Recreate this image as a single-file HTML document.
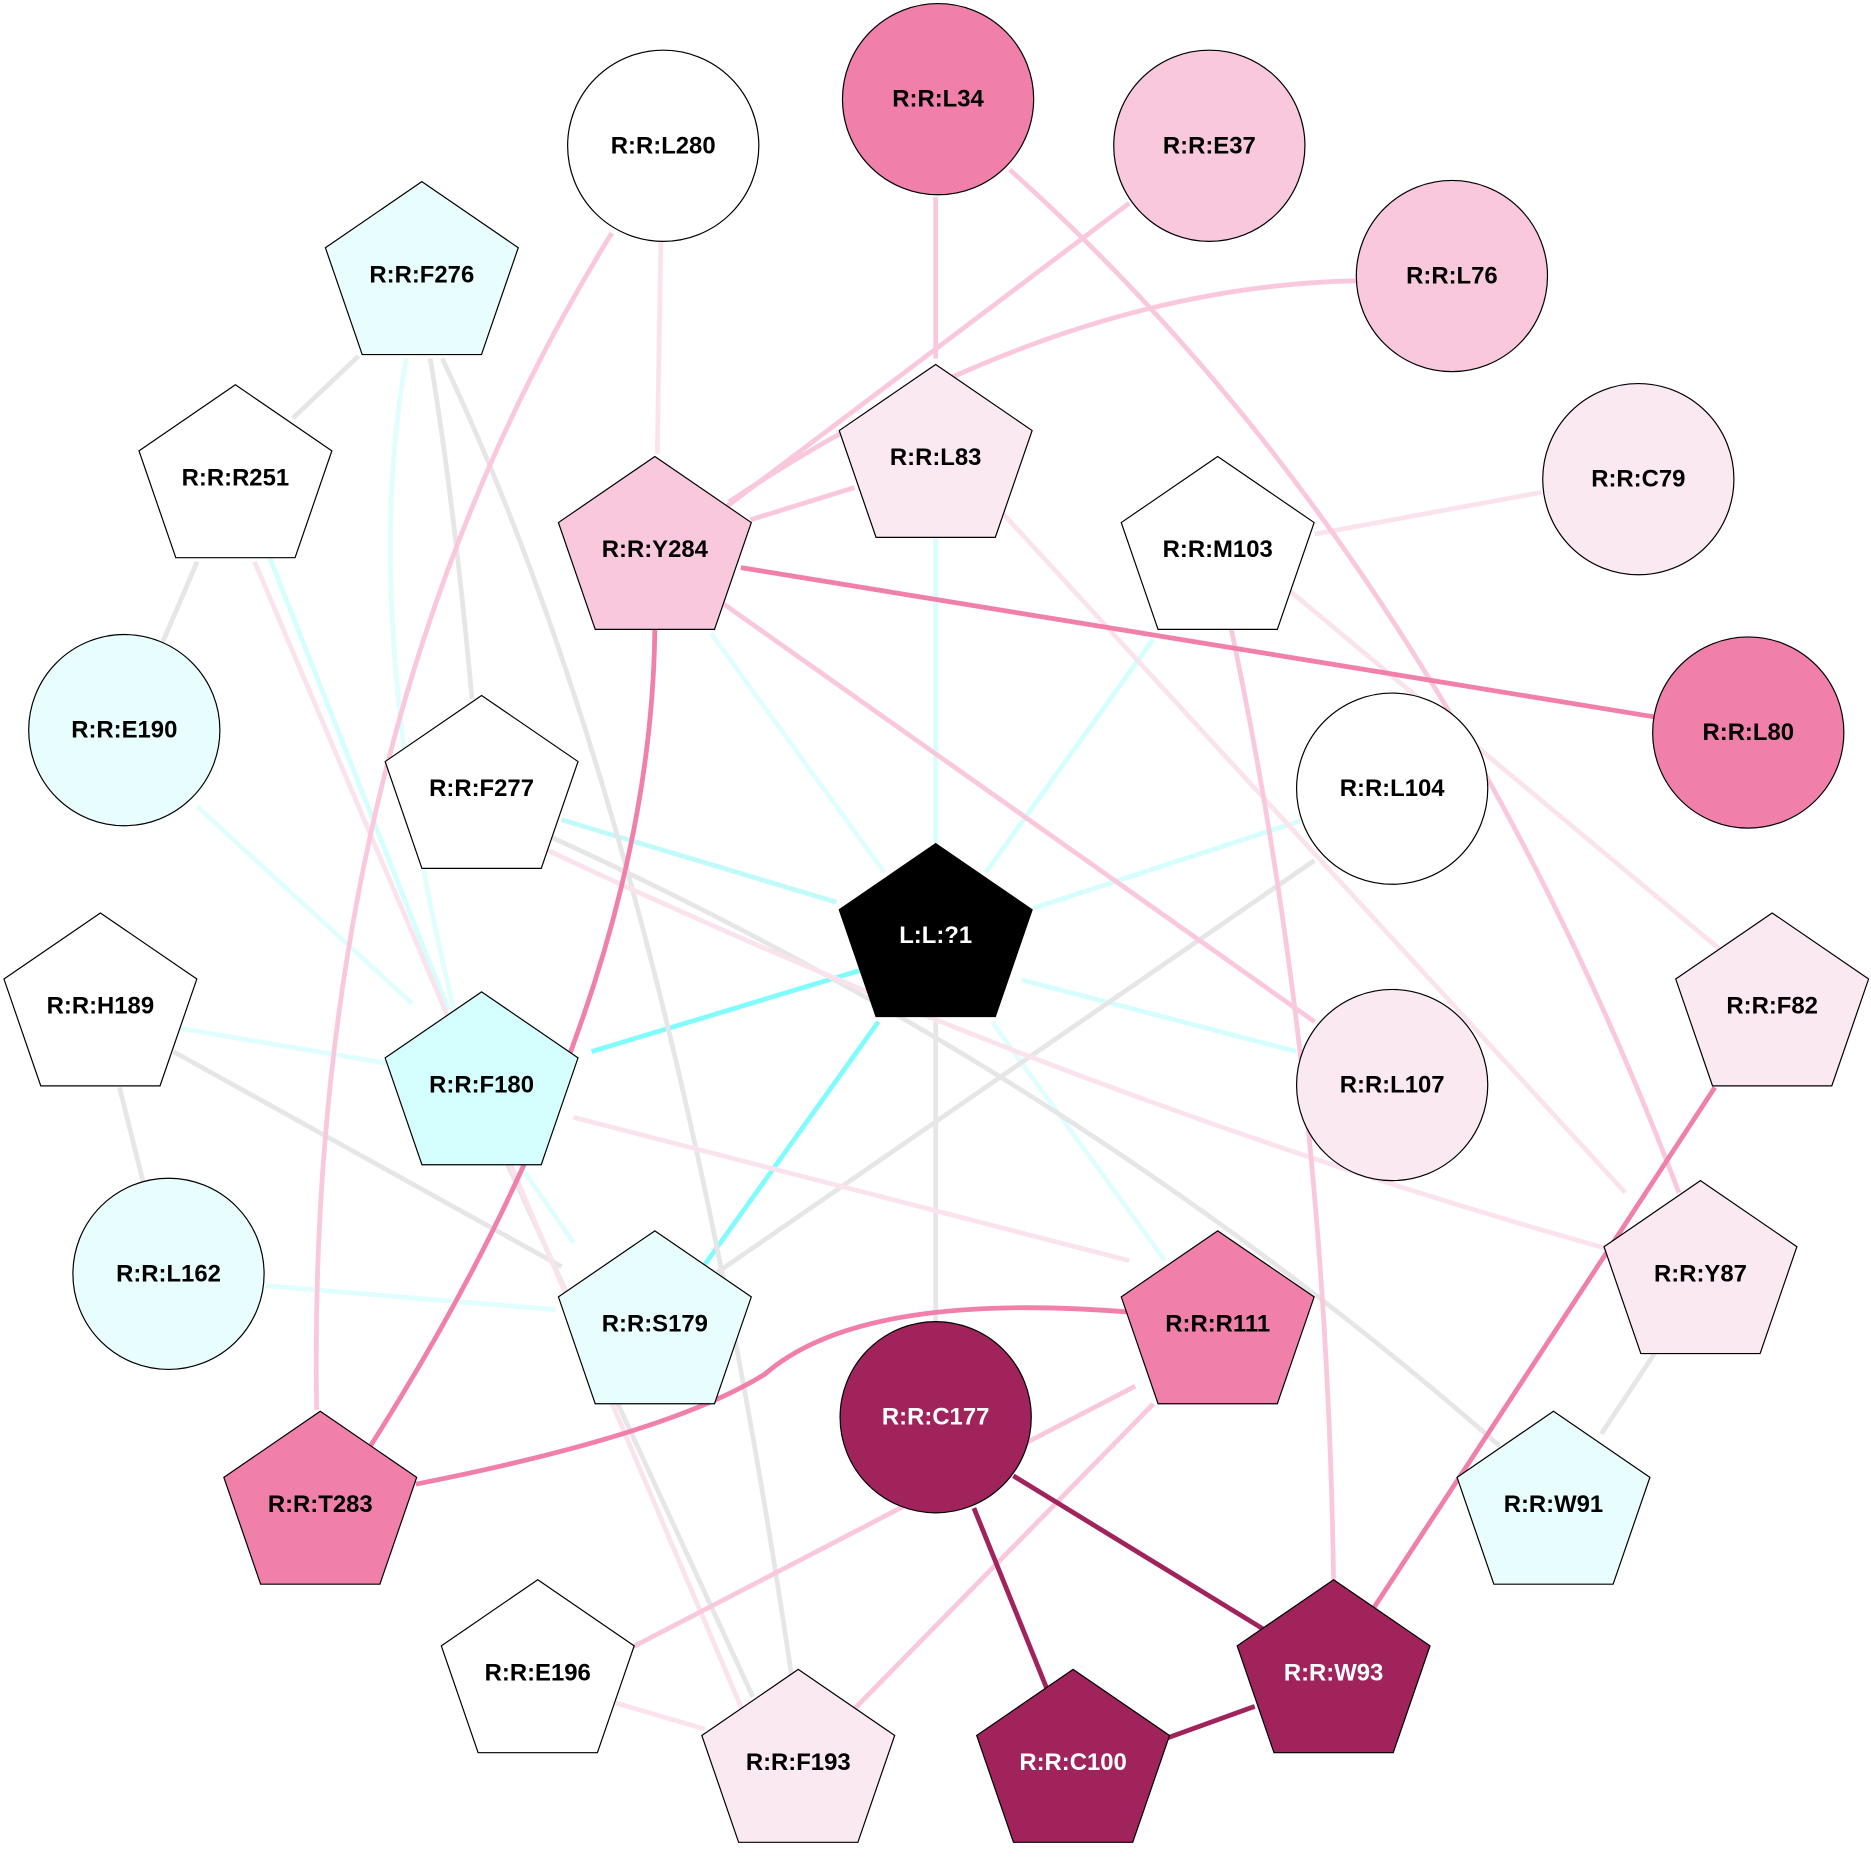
<!DOCTYPE html>
<html><head><meta charset="utf-8"><style>html,body{margin:0;padding:0;background:#fff}svg{display:block}</style></head><body>
<svg width="1871" height="1865" viewBox="0 0 1565.7 1560.7" xmlns="http://www.w3.org/2000/svg">
<defs>
<polygon id="p" points="0,-80 80.7,-24.7 49.9,64.7 -49.9,64.7 -80.7,-24.7" stroke="#000" stroke-width="1"/>
</defs>
<g fill="none" stroke-width="4">
<line x1="783" y1="710" x2="783" y2="450" stroke="#d9fefe"/>
<line x1="740" y1="730" x2="595" y2="530" stroke="#e0fefe"/>
<line x1="825" y1="730" x2="965" y2="535" stroke="#d5fefe"/>
<line x1="700" y1="755" x2="470" y2="686" stroke="#c0fafa"/>
<line x1="865" y1="760" x2="1088" y2="687" stroke="#d5fefe"/>
<line x1="855" y1="820" x2="1085" y2="880" stroke="#d5fefe"/>
<line x1="720" y1="812" x2="495" y2="880" stroke="#80fcfc"/>
<line x1="735" y1="855" x2="590" y2="1058" stroke="#80fcfc"/>
<line x1="830" y1="855" x2="975" y2="1055" stroke="#e0fefe"/>
<line x1="783" y1="855" x2="783" y2="1108" stroke="#e6e6e6"/>
<line x1="300" y1="298" x2="245" y2="350" stroke="#e6e6e6"/>
<path d="M360,300 Q380,420 395,585" stroke="#e6e6e6"/>
<path d="M370,300 Q560,700 665,1420" stroke="#e6e6e6"/>
<line x1="165" y1="470" x2="135" y2="540" stroke="#e6e6e6"/>
<path d="M460,700 Q900,900 1255,1210" stroke="#e6e6e6"/>
<line x1="425" y1="975" x2="630" y2="1420" stroke="#e6e6e6"/>
<line x1="145" y1="880" x2="470" y2="1060" stroke="#e6e6e6"/>
<line x1="100" y1="910" x2="120" y2="990" stroke="#e6e6e6"/>
<line x1="1100" y1="720" x2="600" y2="1065" stroke="#e6e6e6"/>
<line x1="1385" y1="1132" x2="1340" y2="1200" stroke="#e6e6e6"/>
<path d="M340,300 Q300,520 380,845" stroke="#e0fefe"/>
<line x1="225" y1="465" x2="375" y2="845" stroke="#d5fefe"/>
<line x1="165" y1="675" x2="345" y2="840" stroke="#e0fefe"/>
<line x1="135" y1="858" x2="325" y2="890" stroke="#e0fefe"/>
<line x1="222" y1="1076" x2="465" y2="1096" stroke="#e0fefe"/>
<line x1="435" y1="975" x2="480" y2="1040" stroke="#e0fefe"/>
<line x1="553" y1="202" x2="550" y2="380" stroke="#fbe3ee"/>
<line x1="1290" y1="412" x2="1100" y2="447" stroke="#fbe3ee"/>
<line x1="835" y1="425" x2="1360" y2="998" stroke="#fbe3ee"/>
<line x1="1080" y1="495" x2="1440" y2="795" stroke="#fbe3ee"/>
<line x1="213" y1="470" x2="625" y2="1440" stroke="#fbe3ee"/>
<path d="M455,710 Q900,920 1345,1045" stroke="#fbe3ee"/>
<line x1="480" y1="935" x2="945" y2="1055" stroke="#fbe3ee"/>
<line x1="515" y1="1425" x2="590" y2="1447" stroke="#fbe3ee"/>
<line x1="783" y1="165" x2="783" y2="300" stroke="#f9c8dc"/>
<path d="M845,142 Q1200,460 1405,998" stroke="#f9c8dc"/>
<line x1="945" y1="170" x2="600" y2="430" stroke="#f9c8dc"/>
<path d="M1135,235 Q880,240 610,420" stroke="#f9c8dc"/>
<line x1="715" y1="408" x2="628" y2="435" stroke="#f9c8dc"/>
<line x1="605" y1="505" x2="1100" y2="855" stroke="#f9c8dc"/>
<path d="M512,195 Q255,610 265,1180" stroke="#f9c8dc"/>
<path d="M1030,525 Q1110,900 1116,1325" stroke="#f9c8dc"/>
<line x1="950" y1="1160" x2="530" y2="1378" stroke="#f9c8dc"/>
<line x1="965" y1="1175" x2="715" y2="1430" stroke="#f9c8dc"/>
<line x1="620" y1="475" x2="1385" y2="600" stroke="#f07faa"/>
<path d="M548,525 Q545,840 310,1210" stroke="#f07faa"/>
<path d="M945,1098 Q720,1080 640,1150 Q560,1200 348,1242" stroke="#f07faa"/>
<line x1="1435" y1="910" x2="1150" y2="1345" stroke="#f07faa"/>
<line x1="848" y1="1235" x2="1060" y2="1365" stroke="#a0235c"/>
<line x1="815" y1="1262" x2="878" y2="1418" stroke="#a0235c"/>
<line x1="975" y1="1455" x2="1050" y2="1428" stroke="#a0235c"/>
</g>
<g stroke="#000" stroke-width="1">
<circle cx="555" cy="122" r="80" fill="#fff"/>
<circle cx="785" cy="83" r="80" fill="#f07faa"/>
<circle cx="1012" cy="122" r="80" fill="#f9c8dc"/>
<circle cx="1215" cy="231" r="80" fill="#f9c8dc"/>
<circle cx="1371" cy="401" r="80" fill="#fbe9f1"/>
<circle cx="1463" cy="613" r="80" fill="#f07faa"/>
<circle cx="1165" cy="660" r="80" fill="#fff"/>
<circle cx="1165" cy="908" r="80" fill="#fbe9f1"/>
<circle cx="104" cy="611" r="80" fill="#e8fdfd"/>
<circle cx="141" cy="1066" r="80" fill="#e8fdfd"/>
<circle cx="783" cy="1186" r="80" fill="#a0235c"/>
</g>
<use href="#p" x="783" y="786" fill="#000"/>
<use href="#p" x="353" y="232" fill="#e8fdfd"/>
<use href="#p" x="197" y="402" fill="#fff"/>
<use href="#p" x="403" y="662" fill="#fff"/>
<use href="#p" x="548" y="462" fill="#f9c8dc"/>
<use href="#p" x="783" y="385" fill="#fbe9f1"/>
<use href="#p" x="1019" y="462" fill="#fff"/>
<use href="#p" x="1483" y="844" fill="#fbe9f1"/>
<use href="#p" x="84" y="844" fill="#fff"/>
<use href="#p" x="403" y="910" fill="#d5fefe"/>
<use href="#p" x="548" y="1110" fill="#e8fdfd"/>
<use href="#p" x="1019" y="1110" fill="#f07faa"/>
<use href="#p" x="1423" y="1068" fill="#fbe9f1"/>
<use href="#p" x="268" y="1261" fill="#f07faa"/>
<use href="#p" x="1300" y="1261" fill="#e8fdfd"/>
<use href="#p" x="450" y="1402" fill="#fff"/>
<use href="#p" x="668" y="1477" fill="#fbe9f1"/>
<use href="#p" x="898" y="1477" fill="#a0235c"/>
<use href="#p" x="1116" y="1402" fill="#a0235c"/>
<g font-family="Liberation Sans, Arial, sans-serif" font-weight="bold" font-size="20" text-anchor="middle" dominant-baseline="central" fill="#000">
<text x="555" y="122">R:R:L280</text>
<text x="785" y="83">R:R:L34</text>
<text x="1012" y="122">R:R:E37</text>
<text x="1215" y="231">R:R:L76</text>
<text x="1371" y="401">R:R:C79</text>
<text x="1463" y="613">R:R:L80</text>
<text x="1165" y="660">R:R:L104</text>
<text x="1165" y="908">R:R:L107</text>
<text x="104" y="611">R:R:E190</text>
<text x="141" y="1066">R:R:L162</text>
<text x="783" y="1186" fill="#fff">R:R:C177</text>
<text x="783" y="783" fill="#fff">L:L:?1</text>
<text x="353" y="230">R:R:F276</text>
<text x="197" y="400">R:R:R251</text>
<text x="403" y="660">R:R:F277</text>
<text x="548" y="460">R:R:Y284</text>
<text x="783" y="383">R:R:L83</text>
<text x="1019" y="460">R:R:M103</text>
<text x="1483" y="842">R:R:F82</text>
<text x="84" y="842">R:R:H189</text>
<text x="403" y="908">R:R:F180</text>
<text x="548" y="1108">R:R:S179</text>
<text x="1019" y="1108">R:R:R111</text>
<text x="1423" y="1066">R:R:Y87</text>
<text x="268" y="1259">R:R:T283</text>
<text x="1300" y="1259">R:R:W91</text>
<text x="450" y="1400">R:R:E196</text>
<text x="668" y="1475">R:R:F193</text>
<text x="898" y="1475" fill="#fff">R:R:C100</text>
<text x="1116" y="1400" fill="#fff">R:R:W93</text>
</g>
</svg>
</body></html>
